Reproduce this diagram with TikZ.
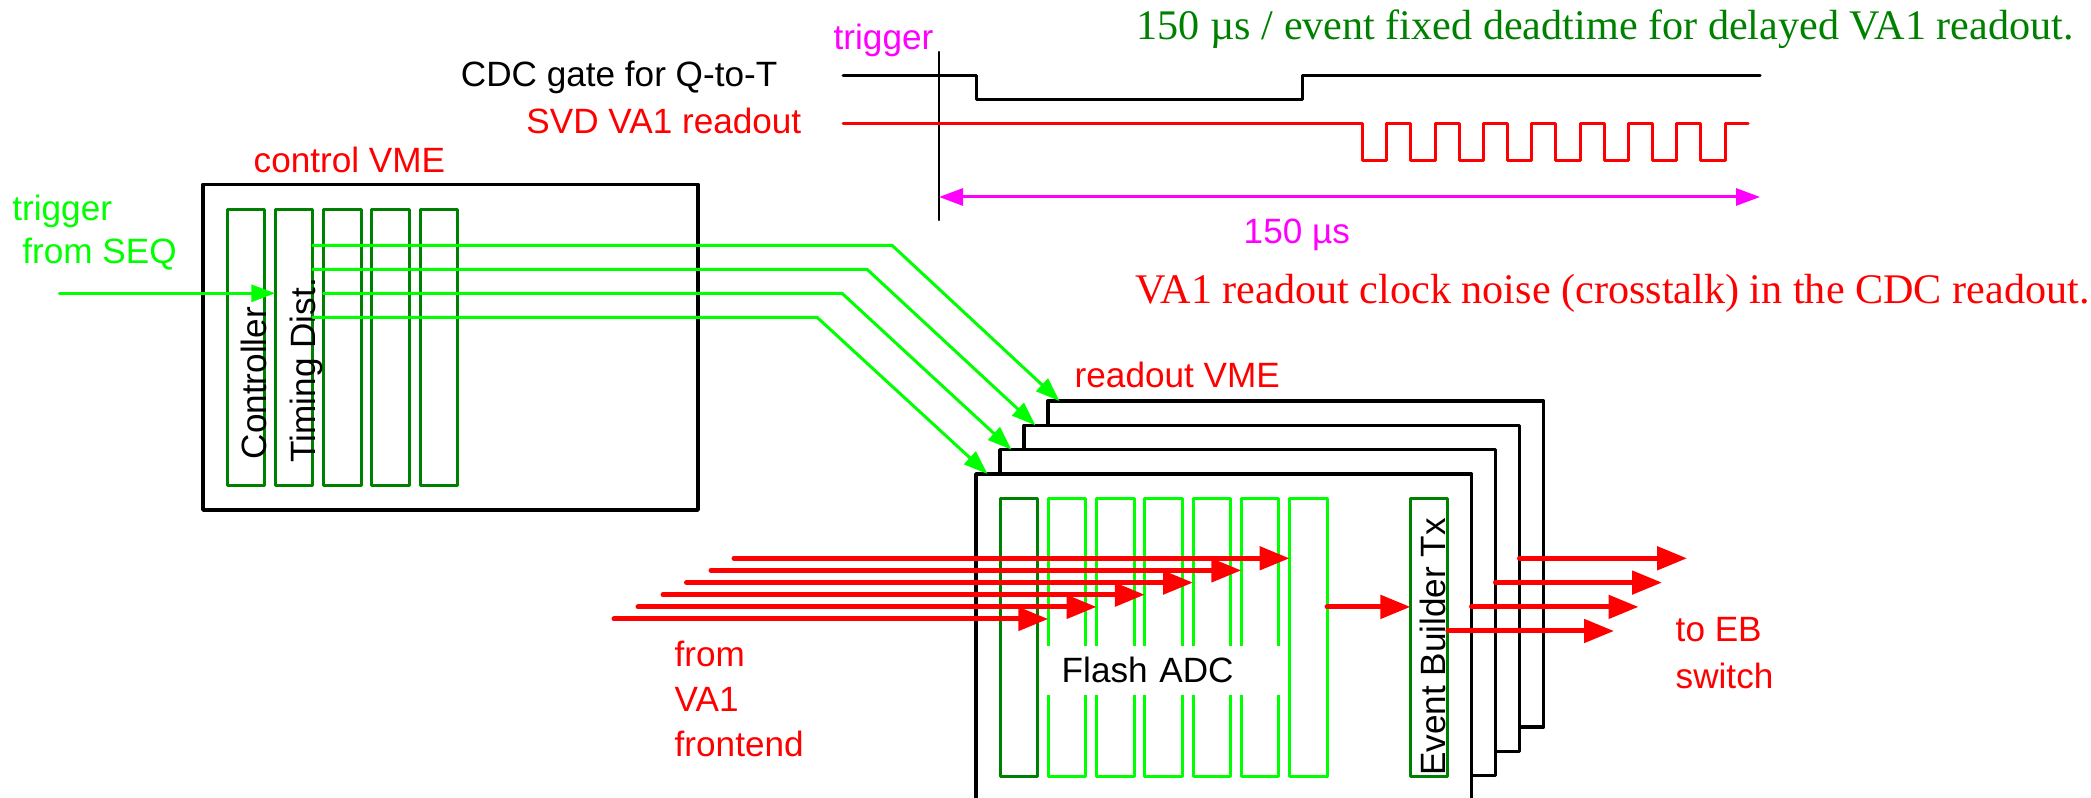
\documentclass[tikz,border=0pt]{standalone}
\usepackage{fontspec}
\setmainfont{Liberation Serif}
\setsansfont{Liberation Sans}
\usetikzlibrary{arrows.meta}

\begin{document}
\begin{tikzpicture}[x=1cm,y=1cm,line cap=round,line join=round,
  font=\sffamily\fontsize{10pt}{12.8pt}\selectfont,
  crate/.style={draw=black,fill=white,line width=0.35mm,inner sep=0pt,outer sep=0pt,anchor=south west},
  card/.style={draw=cardgreen,line width=0.3mm,inner sep=0pt,outer sep=0pt,anchor=south west,minimum width=0.375cm},
  adccard/.style={card,draw=siggreen},
  lbl/.style={inner sep=0pt,anchor=base west},
  note/.style={lbl,font=\rmfamily\fontsize{12pt}{14pt}\selectfont},
  siglink/.style={siggreen,line width=0.3mm},
  sigarrow/.style={siglink,-{Triangle[length=2.4mm,width=1.7mm]}},
  datarrow/.style={datared,line width=0.5mm,-{Triangle[length=3mm,width=2.3mm]}},
  spanarrow/.style={trigmagenta,line width=0.3mm,{Triangle[length=2.4mm,width=1.7mm]}-{Triangle[length=2.4mm,width=1.7mm]}},
  wave/.style={line width=0.3mm},
]
\definecolor{cardgreen}{RGB}{0,128,0}
\definecolor{siggreen}{RGB}{0,255,0}
\definecolor{notegreen}{RGB}{0,128,0}
\definecolor{datared}{RGB}{255,0,0}
\definecolor{trigmagenta}{RGB}{255,0,255}

\newcommand{\readoutcrate}[1]{
  \node[crate,minimum width=4.955cm,minimum height=3.26cm] (#1) at (9.76,-0.03) {};
}

\useasboundingbox (0,0) rectangle (20.91,7.97);

\node[lbl,text=trigmagenta] (trigtxt) at (8.33,7.47) {trigger};
\node[lbl,anchor=base east] (cdctxt) at (7.78,7.10) {CDC gate for Q-to-T};
\node[lbl,anchor=base east,text=datared] (svdtxt) at (8.02,6.63) {SVD VA1 readout};
\node[note,text=notegreen] (deadtxt) at (11.36,7.57)
  {150 µs / event fixed deadtime for delayed VA1 readout.};
\node[note,text=datared] (noisetxt) at (11.35,4.93)
  {VA1 readout clock noise (crosstalk) in the CDC readout.};
\node[lbl,text=trigmagenta] (widthtxt) at (12.43,5.53) {150 µs};

\coordinate (trigtop) at (9.39,7.45);
\coordinate (trigbot) at (9.39,5.77);
\coordinate (spanend) at (17.60,6.00);
\draw[line width=0.22mm] (trigtop) -- (trigbot);
\draw[wave] (8.43,7.21) -- (9.76,7.21) -- (9.76,6.97) -- (13.02,6.97)
  -- (13.02,7.21) -- (17.60,7.21);
\draw[wave,datared] (8.43,6.73) -- (13.62,6.73)
  -- (13.62,6.36) -- (13.86,6.36) -- (13.86,6.73) -- (14.10,6.73)
  -- (14.10,6.36) -- (14.35,6.36) -- (14.35,6.73) -- (14.59,6.73)
  -- (14.59,6.36) -- (14.83,6.36) -- (14.83,6.73) -- (15.07,6.73)
  -- (15.07,6.36) -- (15.31,6.36) -- (15.31,6.73) -- (15.55,6.73)
  -- (15.55,6.36) -- (15.80,6.36) -- (15.80,6.73) -- (16.04,6.73)
  -- (16.04,6.36) -- (16.28,6.36) -- (16.28,6.73) -- (16.52,6.73)
  -- (16.52,6.36) -- (16.76,6.36) -- (16.76,6.73) -- (17.00,6.73)
  -- (17.00,6.36) -- (17.25,6.36) -- (17.25,6.73) -- (17.48,6.73);
\draw[spanarrow] (trigtop |- spanend) -- (spanend);

\node[lbl,text=datared] (ctllbl) at (2.53,6.24) {control VME};
\node[crate,minimum width=4.95cm,minimum height=3.257cm] (ctlcrate) at (2.03,2.87) {};
\node[card,minimum height=2.764cm] (ctl1) at (2.27,3.113) {};
\node[card,minimum height=2.764cm] (ctl2) at (2.7525,3.113) {};
\node[card,minimum height=2.764cm] (ctl3) at (3.235,3.113) {};
\node[card,minimum height=2.764cm] (ctl4) at (3.7175,3.113) {};
\node[card,minimum height=2.764cm] (ctl5) at (4.20,3.113) {};
\node[lbl,rotate=90] (ctlname) at (2.66,3.37) {Controller};
\node[lbl,rotate=90] (tdname) at (3.153,3.34) {Timing Dist.};

\node[lbl,text=siggreen,align=left,font=\sffamily\fontsize{10pt}{12.3pt}\selectfont]
  (seqtxt) at (0.117,5.337) {trigger\\\hspace*{0.1cm}from SEQ};
\coordinate (seqin) at (0.593,5.037);
\draw[sigarrow] (seqin) -- (seqin -| ctl2.west);

\begin{scope}[shift={(0.72,0.729)}]
  \readoutcrate{rdoD}
\end{scope}
\begin{scope}[shift={(0.48,0.486)}]
  \readoutcrate{rdoC}
\end{scope}
\begin{scope}[shift={(0.24,0.243)}]
  \readoutcrate{rdoB}
\end{scope}
\readoutcrate{rdoA}
\node[lbl,text=datared] (rdolbl) at (10.74,4.09) {readout VME};

\coordinate (fanA) at (8.92,5.517);
\coordinate (fanB) at (8.67,5.277);
\coordinate (fanC) at (8.42,5.037);
\coordinate (fanD) at (8.17,4.797);
\draw[sigarrow] (ctl2.east |- fanA) -- (fanA) -- ([xshift=0.115cm]rdoD.north west);
\draw[sigarrow] (ctl2.east |- fanB) -- (fanB) -- ([xshift=0.115cm]rdoC.north west);
\draw[sigarrow] (ctl3.west |- fanC) -- (fanC) -- ([xshift=0.115cm]rdoB.north west);
\draw[sigarrow] (ctl2.east |- fanD) -- (fanD) -- ([xshift=0.115cm]rdoA.north west);

\node[card,minimum height=2.784cm] (adc0) at (10.00,0.203) {};
\node[adccard,minimum height=2.784cm] (adc1) at (10.4825,0.203) {};
\node[adccard,minimum height=2.784cm] (adc2) at (10.965,0.203) {};
\node[adccard,minimum height=2.784cm] (adc3) at (11.4475,0.203) {};
\node[adccard,minimum height=2.784cm] (adc4) at (11.93,0.203) {};
\node[adccard,minimum height=2.784cm] (adc5) at (12.4125,0.203) {};
\node[adccard,minimum height=2.784cm] (adc6) at (12.895,0.203) {};
\node[card,minimum height=2.784cm] (ebtx) at (14.104,0.203) {};
\node[lbl,anchor=west,fill=white,text width=2.02cm,align=left,inner xsep=0.21cm,
  minimum height=0.49cm] (flashadc) at (10.40,1.267) {Flash ADC};
\node[lbl,rotate=90] (ebname) at (14.456,0.203) {Event Builder Tx};

\coordinate (va1a) at (7.34,2.387);
\coordinate (va1b) at (7.11,2.266);
\coordinate (va1c) at (6.865,2.144);
\coordinate (va1d) at (6.63,2.023);
\coordinate (va1e) at (6.38,1.901);
\coordinate (va1f) at (6.14,1.78);
\draw[datarrow] (va1a) -- (va1a -| adc6.west);
\draw[datarrow] (va1b) -- (va1b -| adc5.west);
\draw[datarrow] (va1c) -- (va1c -| adc4.west);
\draw[datarrow] (va1d) -- (va1d -| adc3.west);
\draw[datarrow] (va1e) -- (va1e -| adc2.west);
\draw[datarrow] (va1f) -- (va1f -| adc1.west);
\draw[datarrow] (adc6.east |- va1e) -- (ebtx.west |- va1e);

\coordinate (ebswA) at (16.87,2.387);
\coordinate (ebswB) at (16.62,2.144);
\coordinate (ebswC) at (16.385,1.901);
\coordinate (ebswD) at (16.14,1.66);
\draw[datarrow] (rdoC.east |- ebswA) -- (ebswA);
\draw[datarrow] (rdoB.east |- ebswB) -- (ebswB);
\draw[datarrow] (rdoA.east |- ebswC) -- (ebswC);
\draw[datarrow] (ebtx.east |- ebswD) -- (ebswD);

\node[lbl,text=datared,align=left] (va1txt) at (6.74,0.403) {from\\VA1\\frontend};
\node[lbl,text=datared,align=left,font=\sffamily\fontsize{10pt}{13.2pt}\selectfont]
  (ebtxt) at (16.75,1.087) {to EB\\switch};
\end{tikzpicture}
\end{document}
